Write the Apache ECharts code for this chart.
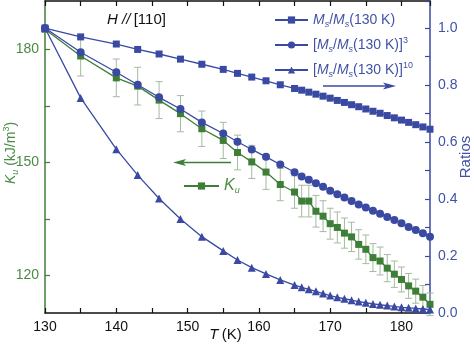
<!DOCTYPE html>
<html>
<head>
<meta charset="utf-8">
<script src="https://cdn.jsdelivr.net/npm/echarts@6/dist/echarts.min.js"></script>
<style>
  html, body { margin: 0; padding: 0; background: #fff; }
  #chart { width: 474px; height: 345px; }
</style>
</head>
<body>
<div id="chart"></div>
<script>
// Temperature points (K)
const temps = [130, 135, 140, 143, 146, 149, 152, 155, 157, 159, 161, 163, 165,
  166, 167, 168, 169, 170, 171, 172, 173, 174, 175, 176, 177, 178, 179, 180, 181, 182, 183, 184];

// Ms / Ms(130 K)
const ratio1 = [1.000, 0.969, 0.944, 0.925, 0.909, 0.891, 0.873, 0.855, 0.841, 0.828, 0.815, 0.801, 0.788,
  0.782, 0.775, 0.768, 0.761, 0.754, 0.746, 0.739, 0.731, 0.724, 0.716, 0.708, 0.701, 0.693, 0.685, 0.677, 0.669, 0.661, 0.653, 0.645];

// [Ms / Ms(130 K)]^3
const ratio3 = [1.000, 0.915, 0.845, 0.801, 0.757, 0.716, 0.669, 0.630, 0.601, 0.574, 0.548, 0.521, 0.494,
  0.479, 0.468, 0.455, 0.443, 0.429, 0.417, 0.405, 0.393, 0.381, 0.370, 0.359, 0.348, 0.337, 0.326, 0.315, 0.302, 0.291, 0.280, 0.268];

// [Ms / Ms(130 K)]^10
const ratio10 = [1.000, 0.755, 0.575, 0.484, 0.402, 0.330, 0.268, 0.218, 0.186, 0.159, 0.137, 0.116, 0.098,
  0.090, 0.083, 0.076, 0.068, 0.061, 0.055, 0.050, 0.045, 0.040, 0.036, 0.032, 0.029, 0.026, 0.023, 0.020, 0.018, 0.016, 0.014, 0.012];

// Uniaxial anisotropy Ku (kJ/m^3) and its uncertainty
const ku = [185.3, 178.2, 172.4, 170.2, 166.5, 162.9, 158.9, 155.8, 152.6, 150.1, 147.4, 144.1, 142.1,
  139.7, 139.7, 137.0, 135.7, 133.7, 132.7, 131.2, 130.2, 128.2, 126.9, 124.7, 123.8, 121.9, 120.3, 118.9, 117.2, 115.8, 114.2, 112.3];
const kuErr = [0, 5.3, 5.0, 5.0, 4.9, 4.8, 4.7, 4.8, 4.6, 4.4, 4.6, 4.3, 4.3,
  4.2, 4.2, 4.2, 4.1, 4.1, 4.1, 4.0, 3.9, 3.9, 3.8, 3.7, 3.7, 3.6, 3.5, 3.3, 3.3, 3.2, 3.1, 3.0];

// Axis tick values
const kuTicks = [120, 135, 150, 165, 180];
const kuLabels = [120, 150, 180];

const BLUE = '#3a4aa3';
const BLUE_TEXT = '#4152a6';
const GREEN = '#3e7f37';
const GREEN_TEXT = '#4b8b45';
const ERR = '#a3bb9f';
const FONT = '"Liberation Sans", Arial, sans-serif';

const pairs = (ys) => temps.map((t, i) => [t, ys[i]]);

function richFor(color) {
  return {
    n: { color: color, fontSize: 14, fontFamily: FONT },
    i: { color: color, fontSize: 14, fontFamily: FONT, fontStyle: 'italic' },
    sub: { color: color, fontSize: 9, fontFamily: FONT, fontStyle: 'italic', padding: [9, 0, 0, 0] },
    sup: { color: color, fontSize: 9, fontFamily: FONT, padding: [0, 0, 9, 0] }
  };
}

const msText = '{i|M}{sub|s}{n|/}{i|M}{sub|s}{n|(130 K)}';
const legendText = {
  'Ms ratio': msText,
  'Ms ratio cubed': '{n|[}' + msText + '{n|]}{sup|3}',
  'Ms ratio tenth': '{n|[}' + msText + '{n|]}{sup|10}',
  'Ku': '{i|K}{sub|u}'
};

const chart = echarts.init(document.getElementById('chart'), null, { renderer: 'canvas' });

const option = {
  animation: false,
  backgroundColor: '#fff',
  textStyle: { fontFamily: FONT },
  grid: { left: 45, right: 44, top: 1, bottom: 32, containLabel: false, outerBoundsMode: 'none' },
  xAxis: [
    {
      type: 'value', min: 130, max: 184, interval: 5,
      position: 'bottom',
      axisLine: { show: true, lineStyle: { color: '#111', width: 1.5 } },
      axisTick: { show: true, inside: true, length: 5, lineStyle: { color: '#111', width: 1.2 } },
      axisLabel: {
        color: '#111', fontSize: 14, margin: 7, fontFamily: FONT,
        formatter: (v) => (Math.round(v) % 10 === 0 && v <= 180 ? String(Math.round(v)) : '')
      },
      splitLine: { show: false },
      name: '{i|T} {n|(K)}',
      nameLocation: 'middle',
      nameGap: 14,
      nameMoveOverlap: false,
      nameTextStyle: { padding: [0, 24, 0, 0], rich: Object.assign(richFor('#111'), {
        i: { color: '#111', fontSize: 15, fontStyle: 'italic', fontFamily: FONT },
        n: { color: '#111', fontSize: 15, fontFamily: FONT } }) }
    },
    {
      type: 'value', min: 130, max: 184, interval: 5,
      position: 'top',
      axisLine: { show: true, lineStyle: { color: '#111', width: 1.5 } },
      axisTick: { show: true, inside: true, length: 5, lineStyle: { color: '#111', width: 1.2 } },
      axisLabel: { show: false },
      splitLine: { show: false }
    }
  ],
  yAxis: [
    {
      type: 'value', min: 110, max: 192.8,
      position: 'left',
      axisLine: { show: true, lineStyle: { color: GREEN, width: 1.5 } },
      axisTick: { show: true, inside: true, length: 5, customValues: kuTicks, lineStyle: { color: GREEN, width: 1.2 } },
      axisLabel: { color: GREEN_TEXT, fontSize: 14, margin: 6, fontFamily: FONT, customValues: kuLabels },
      splitLine: { show: false },
      name: '{i|K}{sub|u}{n| (kJ/m}{sup|3}{n|)}',
      nameLocation: 'middle',
      nameRotate: 90,
      nameGap: 25,
      nameMoveOverlap: false,
      nameTextStyle: { padding: [0, 0, 0, 8], rich: Object.assign(richFor(GREEN_TEXT), {
        i: { color: GREEN_TEXT, fontSize: 14, fontStyle: 'italic', fontFamily: FONT },
        n: { color: GREEN_TEXT, fontSize: 14, fontFamily: FONT } }) }
    },
    {
      type: 'value', min: 0, max: 1.095, interval: 0.1,
      position: 'right',
      axisLine: { show: true, lineStyle: { color: BLUE, width: 1.5 } },
      axisTick: { show: true, inside: true, length: 5, lineStyle: { color: BLUE, width: 1.2 } },
      axisLabel: {
        color: BLUE_TEXT, fontSize: 14, margin: 8, fontFamily: FONT,
        formatter: (v) => {
          const k = Math.round(v * 10);
          return (k % 2 === 0 && v <= 1.0001) ? (k / 10).toFixed(1) : '';
        }
      },
      splitLine: { show: false },
      name: 'Ratios',
      nameLocation: 'middle',
      nameRotate: 90,
      nameGap: 28,
      nameMoveOverlap: false,
      nameTextStyle: { color: BLUE_TEXT, fontSize: 15, fontFamily: FONT }
    }
  ],
  legend: [
    {
      orient: 'vertical', left: 269, top: 8,
      itemWidth: 33, itemHeight: 9, itemGap: 7,
      data: ['Ms ratio', 'Ms ratio cubed', 'Ms ratio tenth'],
      formatter: (name) => legendText[name],
      textStyle: { color: BLUE_TEXT, rich: richFor(BLUE_TEXT) }
    },
    {
      orient: 'vertical', left: 178, top: 173,
      itemWidth: 35, itemHeight: 9,
      data: ['Ku'],
      formatter: (name) => legendText[name],
      textStyle: { color: GREEN_TEXT, rich: Object.assign(richFor(GREEN_TEXT), {
        i: { color: GREEN_TEXT, fontSize: 16, fontStyle: 'italic', fontFamily: FONT } }) }
    }
  ],
  graphic: [
    {
      type: 'text', left: 107, top: 12,
      style: {
        text: '{i|H //} {n|[110]}',
        rich: {
          i: { fontSize: 15, fontStyle: 'italic', fill: '#111', fontFamily: FONT },
          n: { fontSize: 15, fill: '#111', fontFamily: FONT }
        }
      }
    },
    // arrow pointing toward the ratio axis
    { type: 'line', shape: { x1: 323, y1: 86, x2: 388, y2: 86 }, style: { stroke: BLUE, lineWidth: 1.3 } },
    { type: 'polygon', shape: { points: [[383, 82.5], [396, 86], [383, 89.5], [386, 86]] }, style: { fill: BLUE } },
    // arrow pointing toward the Ku axis
    { type: 'line', shape: { x1: 180, y1: 162.5, x2: 231, y2: 162.5 }, style: { stroke: GREEN, lineWidth: 1.4 } },
    { type: 'polygon', shape: { points: [[186, 159], [173, 162.5], [186, 166], [183, 162.5]] }, style: { fill: GREEN } }
  ],
  series: [
    {
      name: 'Ku error',
      type: 'custom',
      xAxisIndex: 0, yAxisIndex: 0,
      z: 1,
      data: temps.map((t, i) => [t, ku[i], kuErr[i]]),
      renderItem: (params, api) => {
        const x = api.value(0), y = api.value(1), e = api.value(2);
        if (!e) return null;
        const top = api.coord([x, y + e]);
        const bot = api.coord([x, y - e]);
        const hw = 3.5;
        const st = { stroke: ERR, lineWidth: 1 };
        return {
          type: 'group',
          children: [
            { type: 'line', shape: { x1: top[0], y1: top[1], x2: bot[0], y2: bot[1] }, style: st },
            { type: 'line', shape: { x1: top[0] - hw, y1: top[1], x2: top[0] + hw, y2: top[1] }, style: st },
            { type: 'line', shape: { x1: bot[0] - hw, y1: bot[1], x2: bot[0] + hw, y2: bot[1] }, style: st }
          ]
        };
      }
    },
    {
      name: 'Ku', type: 'line', xAxisIndex: 0, yAxisIndex: 0, z: 2,
      data: pairs(ku),
      symbol: 'rect', symbolSize: 7,
      itemStyle: { color: GREEN },
      lineStyle: { color: GREEN, width: 1.3 }
    },
    {
      name: 'Ms ratio', type: 'line', xAxisIndex: 0, yAxisIndex: 1, z: 3,
      data: pairs(ratio1),
      symbol: 'rect', symbolSize: 7,
      itemStyle: { color: BLUE },
      lineStyle: { color: BLUE, width: 1.3 }
    },
    {
      name: 'Ms ratio cubed', type: 'line', xAxisIndex: 0, yAxisIndex: 1, z: 3,
      data: pairs(ratio3),
      symbol: 'circle', symbolSize: 8,
      itemStyle: { color: BLUE },
      lineStyle: { color: BLUE, width: 1.3 }
    },
    {
      name: 'Ms ratio tenth', type: 'line', xAxisIndex: 0, yAxisIndex: 1, z: 3,
      data: pairs(ratio10),
      symbol: 'triangle', symbolSize: 8,
      itemStyle: { color: BLUE },
      lineStyle: { color: BLUE, width: 1.3 }
    }
  ]
};

chart.setOption(option);
</script>
</body>
</html>
